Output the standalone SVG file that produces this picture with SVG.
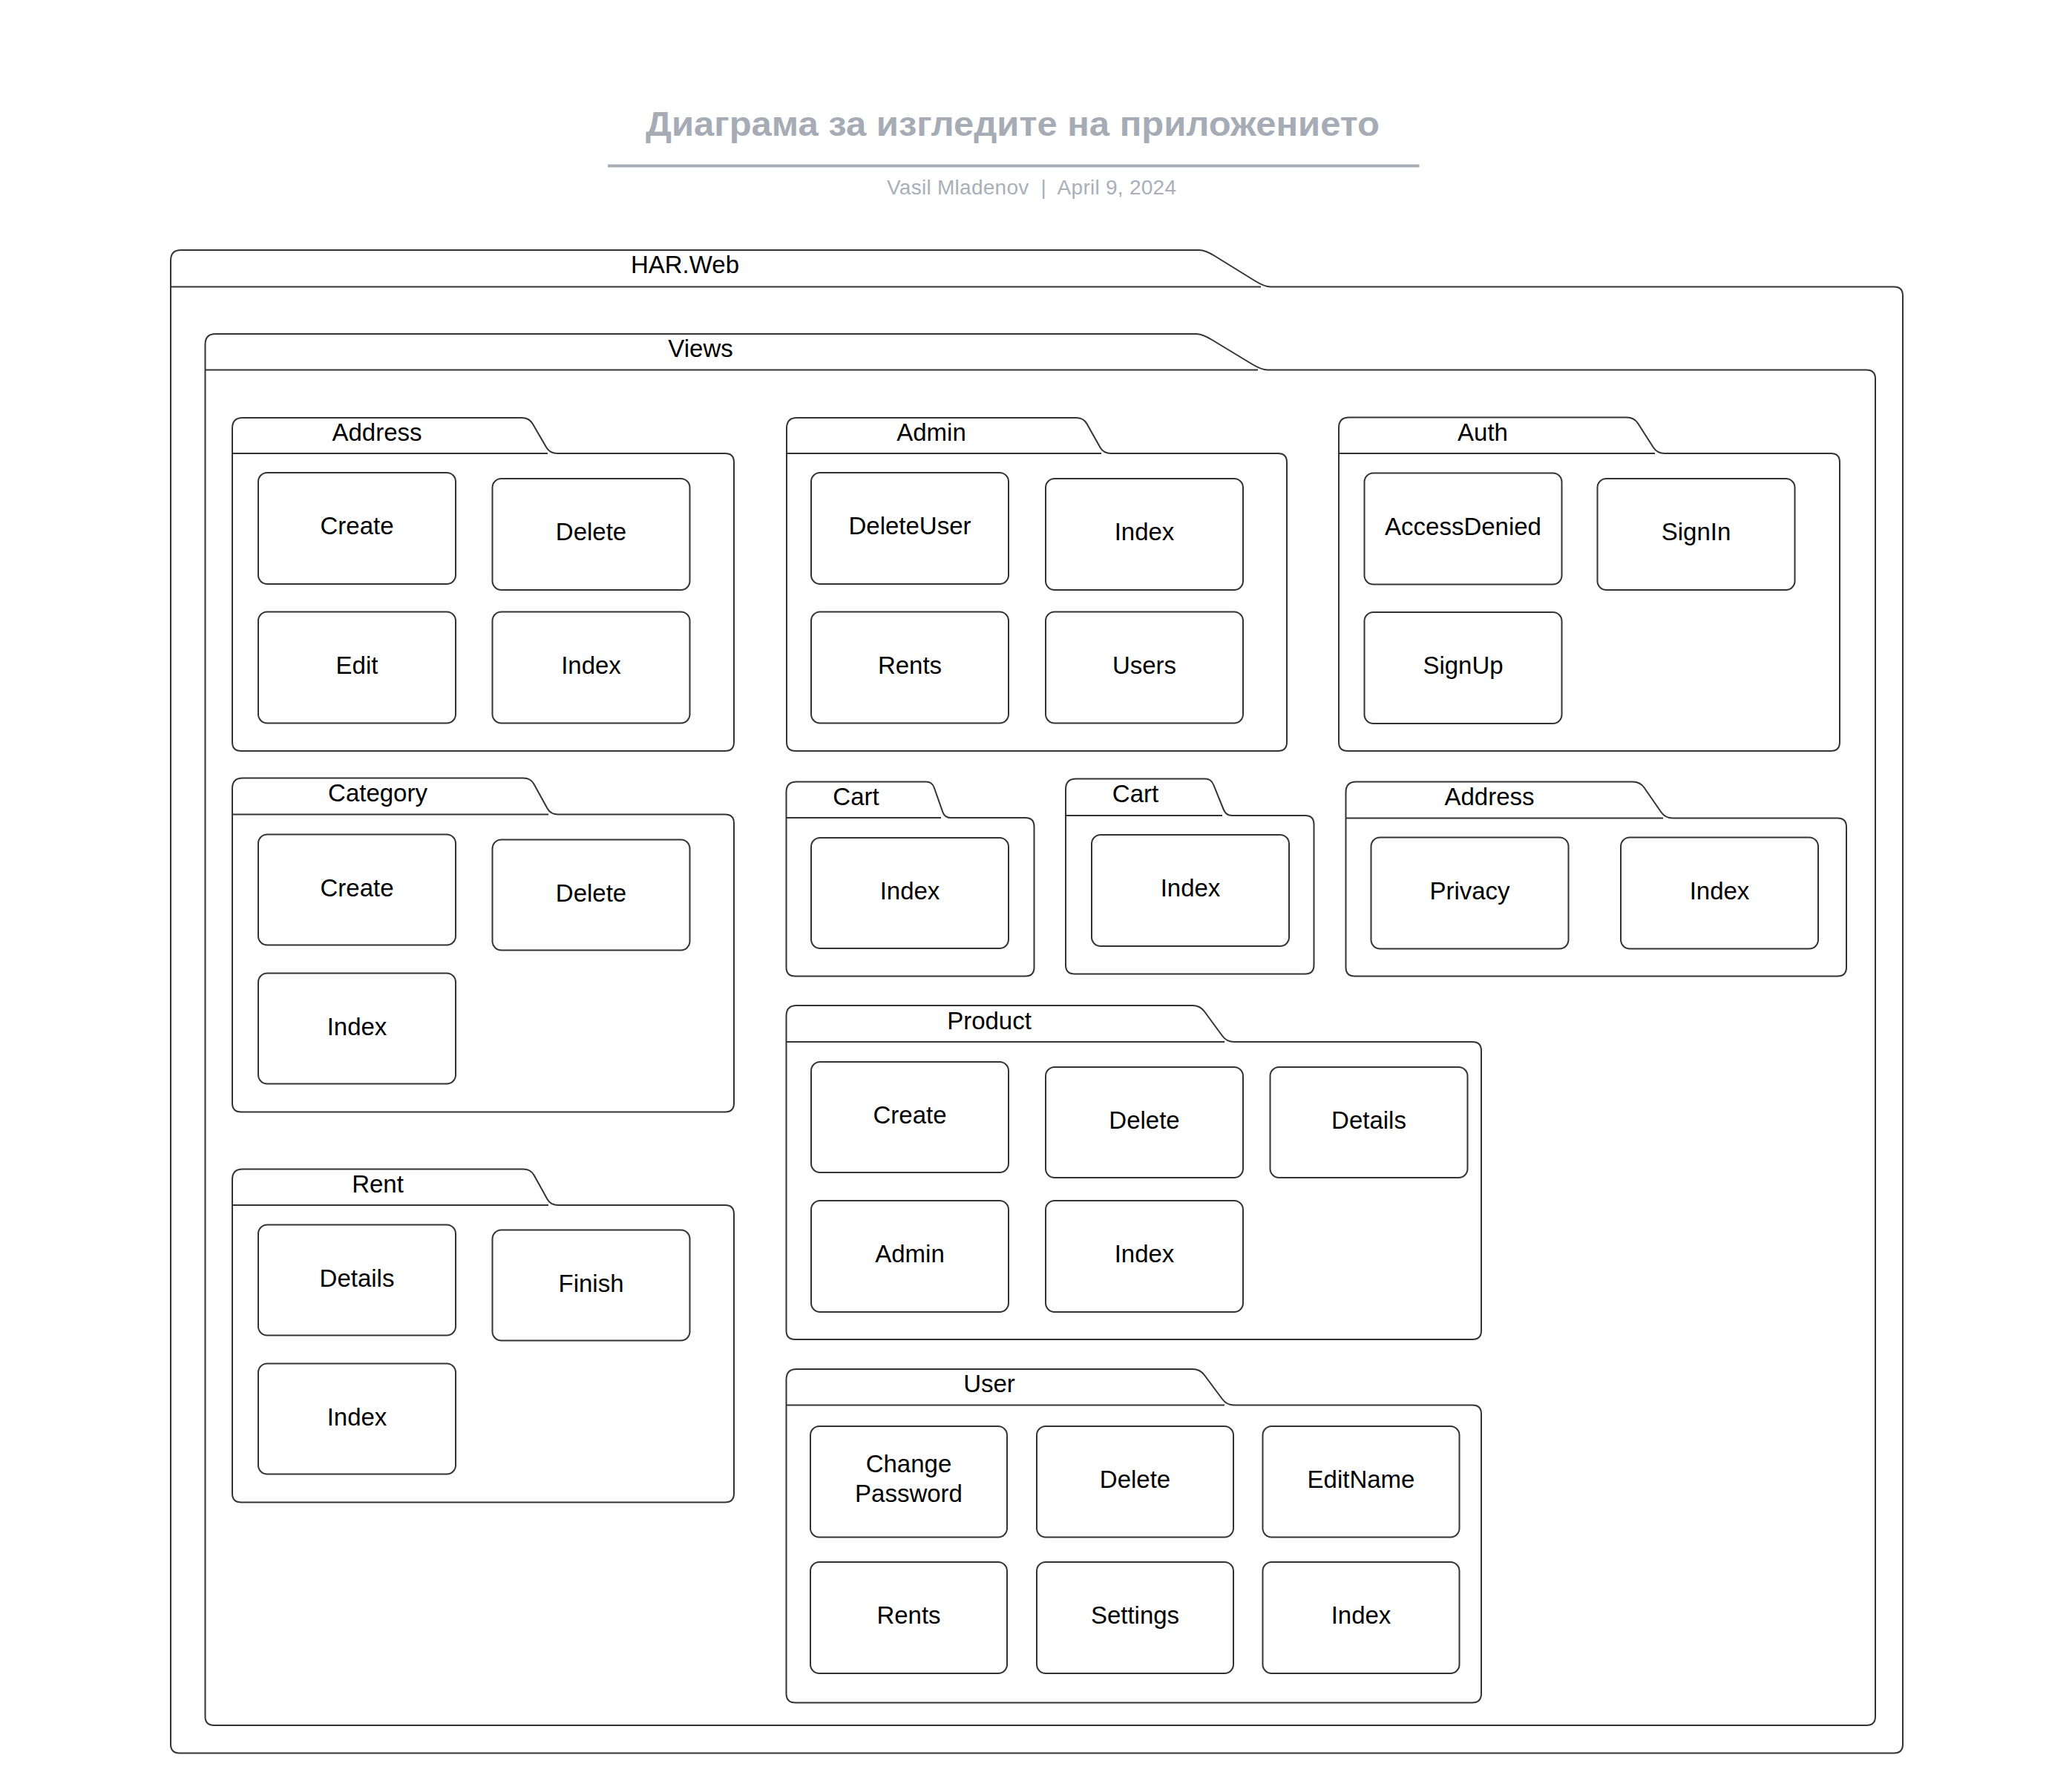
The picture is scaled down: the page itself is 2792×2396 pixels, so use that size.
<svg xmlns="http://www.w3.org/2000/svg" width="2792" height="2396" viewBox="0 0 2792 2396">
<style>
.pkg{fill:#ffffff;stroke:#333333;stroke-width:2;stroke-linejoin:round}
.sep{fill:none;stroke:#333333;stroke-width:2}
.box{fill:#ffffff;stroke:#333333;stroke-width:2}
.lbl{font-family:"Liberation Sans",Arial,sans-serif;font-size:33px;fill:#000000;text-anchor:middle}
.title{font-family:"Liberation Sans",Arial,sans-serif;font-size:46.5px;font-weight:bold;fill:#a6acb6}
.sub{font-family:"Liberation Sans",Arial,sans-serif;font-size:28px;fill:#a9afb9}
</style>
<rect x="0" y="0" width="2792" height="2396" fill="#ffffff"/>
<g id="header">
<text class="title" x="870" y="183" textLength="989" lengthAdjust="spacingAndGlyphs">Диаграма за изгледите на приложението</text>
<line x1="819" y1="223.6" x2="1912.5" y2="223.6" stroke="#a8aeb8" stroke-width="4"/>
<text class="sub" x="1195" y="262" textLength="390">Vasil Mladenov&#160; |&#160; April 9, 2024</text>
</g>
<g id="pkg-harweb">
<path class="pkg" d="M230,2350.5 V351 Q230,337 244,337 H1616 Q1624,337 1636.9,345 L1691.1,378.5 Q1704,386.5 1712,386.5 H2552 Q2564,386.5 2564,398.5 V2350.5 Q2564,2362.5 2552,2362.5 H242 Q230,2362.5 230,2350.5 Z"/>
<path class="sep" d="M230,386.5 H1699"/>
<text class="lbl" x="923" y="368">HAR.Web</text>
</g>
<g id="pkg-views">
<path class="pkg" d="M276.5,2313 V464 Q276.5,450 290.5,450 H1612 Q1620,450 1633.2,458 L1686.8,490.5 Q1700,498.5 1708,498.5 H2515 Q2527,498.5 2527,510.5 V2313 Q2527,2325 2515,2325 H288.5 Q276.5,2325 276.5,2313 Z"/>
<path class="sep" d="M276.5,498.5 H1695"/>
<text class="lbl" x="944" y="481">Views</text>
</g>
<g id="pkg-address">
<path class="pkg" d="M313,1000 V577 Q313,563 327,563 H703 Q713,563 717.7,571 L736.3,603 Q741,611 751,611 H977 Q989,611 989,623 V1000 Q989,1012 977,1012 H325 Q313,1012 313,1000 Z"/>
<path class="sep" d="M313,611 H738"/>
<text class="lbl" x="508" y="594">Address</text>
<g id="address-create"><rect class="box" x="348" y="637" width="266" height="150" rx="12"/><text class="lbl" x="481" y="720">Create</text></g>
<g id="address-delete"><rect class="box" x="663.5" y="645" width="266" height="150" rx="12"/><text class="lbl" x="796.5" y="728">Delete</text></g>
<g id="address-edit"><rect class="box" x="348" y="824.5" width="266" height="150" rx="12"/><text class="lbl" x="481" y="907.5">Edit</text></g>
<g id="address-index"><rect class="box" x="663.5" y="824.5" width="266" height="150" rx="12"/><text class="lbl" x="796.5" y="907.5">Index</text></g>
</g>
<g id="pkg-admin">
<path class="pkg" d="M1060,1000 V577 Q1060,563 1074,563 H1450 Q1460,563 1464.5,571 L1482.5,603 Q1487,611 1497,611 H1722 Q1734,611 1734,623 V1000 Q1734,1012 1722,1012 H1072 Q1060,1012 1060,1000 Z"/>
<path class="sep" d="M1060,611 H1484"/>
<text class="lbl" x="1255" y="594">Admin</text>
<g id="admin-deleteuser"><rect class="box" x="1093" y="637" width="266" height="150" rx="12"/><text class="lbl" x="1226" y="720">DeleteUser</text></g>
<g id="admin-index"><rect class="box" x="1409" y="645" width="266" height="150" rx="12"/><text class="lbl" x="1542" y="728">Index</text></g>
<g id="admin-rents"><rect class="box" x="1093" y="824.5" width="266" height="150" rx="12"/><text class="lbl" x="1226" y="907.5">Rents</text></g>
<g id="admin-users"><rect class="box" x="1409" y="824.5" width="266" height="150" rx="12"/><text class="lbl" x="1542" y="907.5">Users</text></g>
</g>
<g id="pkg-auth">
<path class="pkg" d="M1804,1000 V576.5 Q1804,562.5 1818,562.5 H2192 Q2202,562.5 2207.1,570.5 L2227.9,603 Q2233,611 2243,611 H2467 Q2479,611 2479,623 V1000 Q2479,1012 2467,1012 H1816 Q1804,1012 1804,1000 Z"/>
<path class="sep" d="M1804,611 H2230"/>
<text class="lbl" x="1998" y="593.5">Auth</text>
<g id="auth-accessdenied"><rect class="box" x="1838.5" y="637.5" width="266" height="150" rx="12"/><text class="lbl" x="1971.5" y="720.5">AccessDenied</text></g>
<g id="auth-signin"><rect class="box" x="2152.5" y="645" width="266" height="150" rx="12"/><text class="lbl" x="2285.5" y="728">SignIn</text></g>
<g id="auth-signup"><rect class="box" x="1838.5" y="825" width="266" height="150" rx="12"/><text class="lbl" x="1971.5" y="908">SignUp</text></g>
</g>
<g id="pkg-category">
<path class="pkg" d="M313,1486.5 V1062.5 Q313,1048.5 327,1048.5 H705 Q715,1048.5 719.4,1056.5 L737.6,1089.5 Q742,1097.5 752,1097.5 H977 Q989,1097.5 989,1109.5 V1486.5 Q989,1498.5 977,1498.5 H325 Q313,1498.5 313,1486.5 Z"/>
<path class="sep" d="M313,1097.5 H739"/>
<text class="lbl" x="509" y="1079.5">Category</text>
<g id="category-create"><rect class="box" x="348" y="1124.5" width="266" height="149" rx="12"/><text class="lbl" x="481" y="1207.5">Create</text></g>
<g id="category-delete"><rect class="box" x="663.5" y="1131.5" width="266" height="149" rx="12"/><text class="lbl" x="796.5" y="1214.5">Delete</text></g>
<g id="category-index"><rect class="box" x="348" y="1311.5" width="266" height="149" rx="12"/><text class="lbl" x="481" y="1394.5">Index</text></g>
</g>
<g id="pkg-rent">
<path class="pkg" d="M313,2012.5 V1589.5 Q313,1575.5 327,1575.5 H705 Q715,1575.5 719.5,1583.5 L737.5,1616 Q742,1624 752,1624 H977 Q989,1624 989,1636 V2012.5 Q989,2024.5 977,2024.5 H325 Q313,2024.5 313,2012.5 Z"/>
<path class="sep" d="M313,1624 H739"/>
<text class="lbl" x="509" y="1606.5">Rent</text>
<g id="rent-details"><rect class="box" x="348" y="1650.5" width="266" height="149" rx="12"/><text class="lbl" x="481" y="1733.5">Details</text></g>
<g id="rent-finish"><rect class="box" x="663.5" y="1657.5" width="266" height="149" rx="12"/><text class="lbl" x="796.5" y="1740.5">Finish</text></g>
<g id="rent-index"><rect class="box" x="348" y="1837.5" width="266" height="149" rx="12"/><text class="lbl" x="481" y="1920.5">Index</text></g>
</g>
<g id="pkg-cart-1">
<path class="pkg" d="M1059.5,1303.5 V1067.5 Q1059.5,1053.5 1073.5,1053.5 H1248 Q1256,1053.5 1258.8,1061.5 L1270.2,1094 Q1273,1102 1281,1102 H1381.5 Q1393.5,1102 1393.5,1114 V1303.5 Q1393.5,1315.5 1381.5,1315.5 H1071.5 Q1059.5,1315.5 1059.5,1303.5 Z"/>
<path class="sep" d="M1059.5,1102 H1268"/>
<text class="lbl" x="1153.5" y="1084.5">Cart</text>
<g id="cart1-index"><rect class="box" x="1093" y="1129" width="266" height="149" rx="12"/><text class="lbl" x="1226" y="1211.5">Index</text></g>
</g>
<g id="pkg-cart-2">
<path class="pkg" d="M1436,1300.5 V1063.5 Q1436,1049.5 1450,1049.5 H1624 Q1632,1049.5 1635.2,1057.5 L1648.8,1091 Q1652,1099 1660,1099 H1758.5 Q1770.5,1099 1770.5,1111 V1300.5 Q1770.5,1312.5 1758.5,1312.5 H1448 Q1436,1312.5 1436,1300.5 Z"/>
<path class="sep" d="M1436,1099 H1647"/>
<text class="lbl" x="1530" y="1080.5">Cart</text>
<g id="cart2-index"><rect class="box" x="1471" y="1125" width="266" height="150" rx="12"/><text class="lbl" x="1604" y="1208">Index</text></g>
</g>
<g id="pkg-address-2">
<path class="pkg" d="M1813.5,1303.5 V1067.5 Q1813.5,1053.5 1827.5,1053.5 H2200 Q2210,1053.5 2215.6,1061.5 L2238.4,1094.5 Q2244,1102.5 2254,1102.5 H2476 Q2488,1102.5 2488,1114.5 V1303.5 Q2488,1315.5 2476,1315.5 H1825.5 Q1813.5,1315.5 1813.5,1303.5 Z"/>
<path class="sep" d="M1813.5,1102.5 H2241"/>
<text class="lbl" x="2007" y="1084.5">Address</text>
<g id="address2-privacy"><rect class="box" x="1847.5" y="1128.5" width="266" height="150" rx="12"/><text class="lbl" x="1980.5" y="1211.5">Privacy</text></g>
<g id="address2-index"><rect class="box" x="2184" y="1128.5" width="266" height="150" rx="12"/><text class="lbl" x="2317" y="1211.5">Index</text></g>
</g>
<g id="pkg-product">
<path class="pkg" d="M1059.5,1793 V1369 Q1059.5,1355 1073.5,1355 H1607 Q1617,1355 1622.9,1363 L1647.1,1396 Q1653,1404 1663,1404 H1984 Q1996,1404 1996,1416 V1793 Q1996,1805 1984,1805 H1071.5 Q1059.5,1805 1059.5,1793 Z"/>
<path class="sep" d="M1059.5,1404 H1650"/>
<text class="lbl" x="1333" y="1386.5">Product</text>
<g id="product-create"><rect class="box" x="1093" y="1431" width="266" height="149" rx="12"/><text class="lbl" x="1226" y="1514">Create</text></g>
<g id="product-delete"><rect class="box" x="1409" y="1438" width="266" height="149" rx="12"/><text class="lbl" x="1542" y="1521">Delete</text></g>
<g id="product-details"><rect class="box" x="1711.5" y="1438" width="266" height="149" rx="12"/><text class="lbl" x="1844.5" y="1521">Details</text></g>
<g id="product-admin"><rect class="box" x="1093" y="1618" width="266" height="150" rx="12"/><text class="lbl" x="1226" y="1701">Admin</text></g>
<g id="product-index"><rect class="box" x="1409" y="1618" width="266" height="150" rx="12"/><text class="lbl" x="1542" y="1701">Index</text></g>
</g>
<g id="pkg-user">
<path class="pkg" d="M1059.5,2282.5 V1859 Q1059.5,1845 1073.5,1845 H1607 Q1617,1845 1622.9,1853 L1647.1,1885.5 Q1653,1893.5 1663,1893.5 H1984 Q1996,1893.5 1996,1905.5 V2282.5 Q1996,2294.5 1984,2294.5 H1071.5 Q1059.5,2294.5 1059.5,2282.5 Z"/>
<path class="sep" d="M1059.5,1893.5 H1650"/>
<text class="lbl" x="1333" y="1876">User</text>
<g id="user-changepassword"><rect class="box" x="1092" y="1922" width="265" height="149.5" rx="12"/><text class="lbl" x="1224.5" y="1984">Change</text><text class="lbl" x="1224.5" y="2024">Password</text></g>
<g id="user-delete"><rect class="box" x="1397" y="1922" width="265" height="149.5" rx="12"/><text class="lbl" x="1529.5" y="2005">Delete</text></g>
<g id="user-editname"><rect class="box" x="1701.5" y="1922" width="265" height="149.5" rx="12"/><text class="lbl" x="1834" y="2005">EditName</text></g>
<g id="user-rents"><rect class="box" x="1092" y="2105" width="265" height="150" rx="12"/><text class="lbl" x="1224.5" y="2188">Rents</text></g>
<g id="user-settings"><rect class="box" x="1397" y="2105" width="265" height="150" rx="12"/><text class="lbl" x="1529.5" y="2188">Settings</text></g>
<g id="user-index"><rect class="box" x="1701.5" y="2105" width="265" height="150" rx="12"/><text class="lbl" x="1834" y="2188">Index</text></g>
</g>
<g id="connectors"></g>
</svg>
